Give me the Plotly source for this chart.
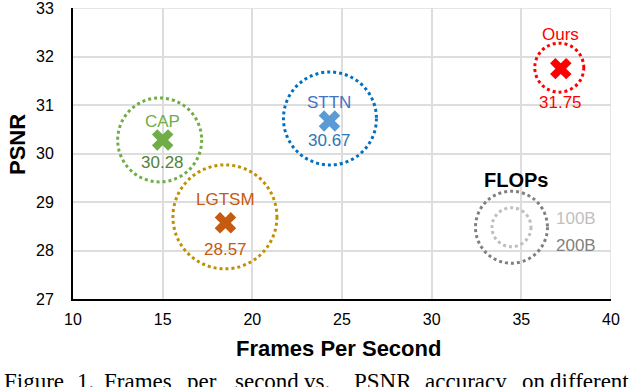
import plotly.graph_objects as go

# Data
methods = ["CAP", "LGTSM", "STTN", "Ours"]
fps = [15.0, 18.5, 24.3, 37.2]
psnr = [30.28, 28.57, 30.67, 31.75]
psnr_text = ["30.28", "28.57", "30.67", "31.75"]

x_ticks = [10, 15, 20, 25, 30, 35, 40]
y_ticks = [27, 28, 29, 30, 31, 32, 33]

flops_labels = ["100B", "200B"]

# Styles
name_colors = ["#70AD47", "#C55A11", "#4472C4", "#FF0000"]
mark_colors = ["#70AD47", "#C55A11", "#5B9BD5", "#FF0000"]
value_colors = ["#548235", "#C55A11", "#2E75B6", "#FF0000"]
ring_colors = ["#70AD47", "#BF9000", "#0070C0", "#FF0000"]
ring_radius = [42, 52, 46.5, 24.5]
ring_dx = [-3, -0.5, 0.5, -1.5]
ring_dy = [0, 6, 2.5, 1]
name_shift = [18, 23.5, 19, 34.5]
value_shift = [-23, -26.5, -19, -33.5]

flops_colors = ["#BFBFBF", "#808080"]
flops_radius = [19.5, 36]

font = "Liberation Sans, Arial, sans-serif"
grid = "#DDDDDD"

# plot area in pixels: x 73..611, y 8..299
L, R, T, B = 73, 611, 8, 299


def px(x):
    return (x - L) / (R - L)


def py(y):
    return (B - y) / (B - T)


fig = go.Figure()

fig.add_trace(go.Scatter(
    x=fps, y=psnr, mode="markers",
    marker=dict(symbol="x", size=19, color=mark_colors, line=dict(width=0)),
    hoverinfo="skip", showlegend=False,
))

# top and right grid lines (plotly skips the ones at the range ends)
shapes = [
    dict(type="line", xref="paper", yref="y", x0=0, x1=1, y0=y_ticks[-1], y1=y_ticks[-1],
         line=dict(color=grid, width=1.5), layer="below"),
    dict(type="line", xref="x", yref="paper", x0=x_ticks[-1], x1=x_ticks[-1], y0=0, y1=1,
         line=dict(color=grid, width=1.5), layer="below"),
]
annotations = []

for i, m in enumerate(methods):
    r = ring_radius[i]
    shapes.append(dict(
        type="circle", xref="x", yref="y",
        xsizemode="pixel", ysizemode="pixel",
        xanchor=fps[i], yanchor=psnr[i],
        x0=-r + ring_dx[i], x1=r + ring_dx[i],
        y0=-r + ring_dy[i], y1=r + ring_dy[i],
        line=dict(color=ring_colors[i], width=3, dash="dot"),
    ))
    annotations.append(dict(
        x=fps[i], y=psnr[i], text=m, showarrow=False,
        xanchor="center", yanchor="middle",
        yshift=name_shift[i], font=dict(family=font, size=17, color=name_colors[i]),
    ))
    annotations.append(dict(
        x=fps[i], y=psnr[i], text=psnr_text[i], showarrow=False,
        xanchor="center", yanchor="middle",
        yshift=value_shift[i], font=dict(family=font, size=17, color=value_colors[i]),
    ))

# FLOPs size legend
legend_x, legend_y = 34.45, 28.48
for i, lab in enumerate(flops_labels):
    r = flops_radius[i]
    shapes.append(dict(
        type="circle", xref="x", yref="y",
        xsizemode="pixel", ysizemode="pixel",
        xanchor=legend_x, yanchor=legend_y,
        x0=-r, x1=r, y0=-r, y1=r,
        line=dict(color=flops_colors[i], width=3, dash="dot"),
    ))
annotations.append(dict(
    x=px(516), y=py(180), xref="paper", yref="paper", text="<b>FLOPs</b>",
    xanchor="center", yanchor="middle",
    showarrow=False, font=dict(family=font, size=20, color="black"),
))
for lab, col, ypix in zip(flops_labels, flops_colors, [218, 245]):
    annotations.append(dict(
        x=px(554), y=py(ypix), xref="paper", yref="paper", text=lab,
        xanchor="left", yanchor="middle", showarrow=False,
        font=dict(family=font, size=17, color=col),
    ))

# axis titles
annotations.append(dict(
    x=px(338.5), y=py(348), xref="paper", yref="paper",
    xanchor="center", yanchor="middle",
    text="<b>Frames Per Second</b>", showarrow=False,
    font=dict(family=font, size=22, color="black"),
))
annotations.append(dict(
    x=px(17), y=py(145), xref="paper", yref="paper",
    xanchor="center", yanchor="middle",
    text="<b>PSNR</b>", showarrow=False, textangle=-90,
    font=dict(family=font, size=22, color="black"),
))

# caption (justified line, cut at the bottom of the picture)
caption_words = ["Figure", "1.", "Frames", "per", "second", "vs.", "PSNR", "accuracy", "on", "different"]
caption_left = [2, 75, 102, 185, 233, 302, 352, 423, 520, 548]
for w, xl in zip(caption_words, caption_left):
    annotations.append(dict(
        x=px(xl), y=py(367), xref="paper", yref="paper", text=w,
        xanchor="left", yanchor="top", showarrow=False,
        font=dict(family="Liberation Serif, Times New Roman, serif", size=23, color="black"),
    ))

fig.update_layout(
    width=640, height=387,
    margin=dict(l=L, r=640 - R, t=T, b=387 - B, autoexpand=False),
    plot_bgcolor="white", paper_bgcolor="white",
    shapes=shapes, annotations=annotations,
    xaxis=dict(
        range=[10, 40], tickvals=x_ticks, ticks="",
        showgrid=True, gridcolor=grid, gridwidth=1.5,
        showline=True, linecolor="black", linewidth=2,
        zeroline=False, ticklabelstandoff=5, ticklabeloverflow="allow",
        tickfont=dict(family=font, size=16, color="black"),
    ),
    yaxis=dict(
        range=[27, 33], tickvals=y_ticks, ticks="",
        showgrid=True, gridcolor=grid, gridwidth=1.5,
        showline=True, linecolor="black", linewidth=2,
        zeroline=False, ticklabelstandoff=14, ticklabeloverflow="allow",
        tickfont=dict(family=font, size=16, color="black"),
    ),
)

fig.write_html("out.html", config={"displayModeBar": False},
               post_script="document.body.style.margin='0';")
